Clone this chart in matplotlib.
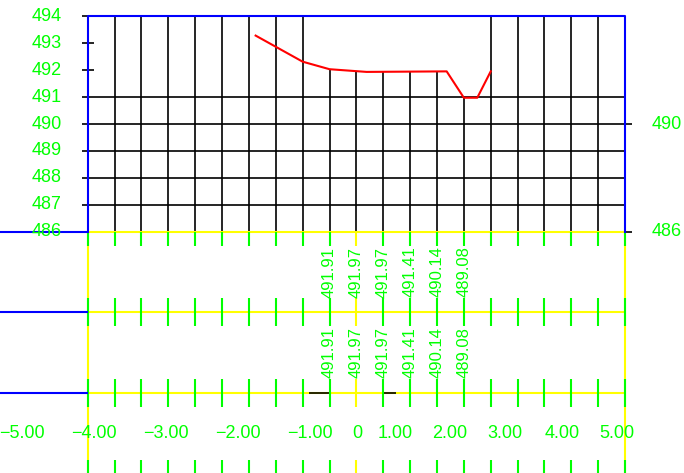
import matplotlib

matplotlib.use("Agg")
import matplotlib.pyplot as plt
import numpy as np

plt.rcParams["font.family"] = ["Liberation Sans", "DejaVu Sans"]

# ground profile: offset (m) / elevation (m)
ground_x = [-1.50, -0.80, -0.40, 0.19, 1.68, 2.00, 2.25, 2.50]
ground_z = [493.29, 492.32, 492.04, 491.94, 491.96, 490.98, 490.98, 491.96]

# values written in the two table rows
band_x = [-0.40, 0.00, 0.50, 1.00, 1.50, 2.00]
row1_values = [491.91, 491.97, 491.97, 491.41, 490.14, 489.08]
row2_values = [491.91, 491.97, 491.97, 491.41, 490.14, 489.08]

# short black marks on the lower table line (from, to)
marks = [(-0.71, -0.40), (0.50, 0.735)]

left_elev = [494, 493, 492, 491, 490, 489, 488, 487, 486]
right_elev = [490, 486]
offset_values = [-5, -4, -3, -2, -1, 0, 1, 2, 3, 4, 5]
# where the offset labels sit along the bottom (in offset units)
offset_label_pos = [-4.98, -3.906, -2.834, -1.762, -0.691, 0.01, 0.72, 1.74, 2.77, 3.83, 4.85]

GREEN = "#00ff00"
BLUE = "#0000ff"
YELLOW = "#ffff00"
RED = "#ff0000"

X0, X1 = -4.0, 5.0
Z0, Z1 = 486.0, 494.0
ROWS = [486.0, 483.0, 480.0, 477.0]
TICK = 0.52


def fwd(x):
    x = np.asarray(x, dtype=float)
    return np.where(x < 0, 2.5 * x, 2.0 * x)


def inv(g):
    g = np.asarray(g, dtype=float)
    return np.where(g < 0, g / 2.5, g / 2.0)


fig = plt.figure(figsize=(6.84, 4.73), dpi=100)
ax = fig.add_axes([0, 0, 1, 1])
ax.set_xscale("function", functions=(fwd, inv))
ax.set_xlim(-5.306, 6.097)
ax.set_ylim(477.03, 494.613)
ax.axis("off")

cols = np.concatenate([np.linspace(X0, 0, 11), np.linspace(0, X1, 11)[1:]])
inner = cols[1:-1]

# black grid
for c in inner:
    if np.any(np.isclose(c, band_x)):
        top = np.interp(c, ground_x, ground_z)
    else:
        top = Z1
    ax.vlines(c, Z0, top, color="black", lw=1.2, zorder=1)
for z in left_elev:
    if z <= 491:
        right = 5.13 if z in right_elev else X1
        ax.hlines(z, -4.09, right, color="black", lw=1.2, zorder=1)
    else:
        ax.hlines(z, -4.09, -3.91, color="black", lw=1.2, zorder=1)

# table lines
for z in ROWS[:3]:
    ax.hlines(z, X0, X1, color=YELLOW, lw=1.5, zorder=2)
    ax.hlines(z, -5.306, X0, color=BLUE, lw=1.5, zorder=4)
ax.vlines([X0, X1], 477.03, Z0, color=YELLOW, lw=1.5, zorder=2)
for a, b in marks:
    ax.hlines(ROWS[2], a, b, color="black", lw=1.2, zorder=3)

# ticks on the table lines
for c in cols:
    col = YELLOW if c == 0 else GREEN
    ax.vlines(c, Z0 - TICK, Z0, color=col, lw=1.5, zorder=3)
    for z in ROWS[1:]:
        ax.vlines(c, z - TICK, z + TICK, color=col, lw=1.5, zorder=3)

# frame
ax.plot([X0, X0, X1, X1], [Z0, Z1, Z1, Z0], color=BLUE, lw=1.5, zorder=4)

# ground line
ax.plot(ground_x, ground_z, color=RED, lw=1.5, zorder=5)

fs = 13
for z in left_elev:
    ax.text(-4.39, z, f"{z}", color=GREEN, fontsize=fs, ha="right", va="center", zorder=6)
for z in right_elev:
    ax.text(5.495, z, f"{z}", color=GREEN, fontsize=fs, ha="left", va="center", zorder=6)

for x, v1, v2 in zip(band_x, row1_values, row2_values):
    ax.text(x, 484.5, f"{v1:.2f}", color=GREEN, fontsize=12, rotation=90,
            ha="center", va="center", zorder=6)
    ax.text(x, 481.5, f"{v2:.2f}", color=GREEN, fontsize=12, rotation=90,
            ha="center", va="center", zorder=6)

for v, p in zip(offset_values, offset_label_pos):
    if v == 0:
        s = "0"
    else:
        s = f"{v:.2f}".replace("-", "\u2212")
    ax.text(p, 478.5, s, color=GREEN, fontsize=fs, ha="center", va="center", zorder=6)

fig.savefig("out.png", dpi=100, facecolor="white")
